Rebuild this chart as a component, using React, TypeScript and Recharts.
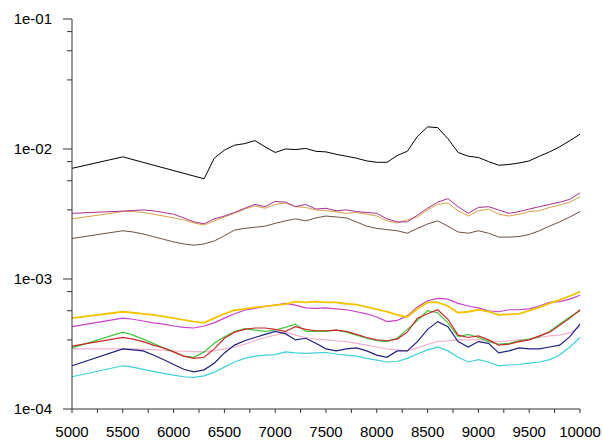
import React from "react";
import { LineChart, Line, XAxis, YAxis } from "recharts";

// wavenumber grid (x)
const wavenumbers = [
  5000, 5500, 5600, 5700, 5800, 5900, 6000, 6100, 6200, 6300, 6400, 6500, 6600, 6700, 6800, 6900,
  7000, 7100, 7200, 7300, 7400, 7500, 7600, 7700, 7800, 7900, 8000, 8100, 8200, 8300, 8400, 8500,
  8600, 8700, 8800, 8900, 9000, 9100, 9200, 9300, 9400, 9500, 9600, 9700, 9800, 9900, 10000,
];

// upper group, values in units of 1e-3
const blackVals = [
  7.1, 8.7, null, null, null, null, null, null, null, 5.9, 8.5, 9.8, 10.7, 11.0, 11.6, 10.4,
  9.4, 10.0, 9.9, 10.1, 9.6, 9.5, 9.1, 8.8, 8.5, 8.1, 7.9, 7.9, 8.9, 9.6, 12.5, 14.8,
  14.6, 12.0, 9.4, 8.8, 8.6, 8.0, 7.5, 7.6, 7.8, 8.1, 8.8, 9.5, 10.4, 11.6, 13.0,
];
const purpleVals = [
  3.2, 3.33, 3.36, 3.4, 3.35, 3.25, 3.15, 2.95, 2.75, 2.66, 2.9, 3.05, 3.25, 3.5, 3.75, 3.6,
  3.95, 3.9, 3.6, 3.75, 3.45, 3.5, 3.35, 3.4, 3.3, 3.25, 3.2, 2.9, 2.75, 2.75, 3.1, 3.5,
  3.9, 4.15, 3.6, 3.2, 3.55, 3.6, 3.4, 3.2, 3.3, 3.45, 3.6, 3.75, 3.9, 4.1, 4.6,
];
const tanVals = [
  2.9, 3.3, 3.3, 3.25, 3.15, 3.05, 2.95, 2.85, 2.7, 2.6, 2.8, 3.0, 3.2, 3.45, 3.65, 3.5,
  3.75, 3.85, 3.6, 3.55, 3.4, 3.35, 3.3, 3.2, 3.25, 3.15, 3.05, 2.8, 2.7, 2.85, 3.0, 3.4,
  3.75, 3.85, 3.35, 3.05, 3.35, 3.45, 3.15, 3.05, 3.15, 3.3, 3.35, 3.55, 3.7, 3.9, 4.3,
];
const brownVals = [
  2.05, 2.35, 2.3, 2.22, 2.12, 2.02, 1.93, 1.86, 1.82, 1.86, 1.96, 2.15, 2.38, 2.45, 2.5, 2.55,
  2.68, 2.8, 2.9, 2.8, 2.95, 3.05, 3.0, 2.95, 2.75, 2.55, 2.45, 2.4, 2.35, 2.25, 2.45, 2.65,
  2.8, 2.55, 2.3, 2.25, 2.35, 2.25, 2.1, 2.1, 2.12, 2.2, 2.35, 2.55, 2.75, 3.0, 3.3,
];

// lower group, values in units of 1e-4
const yellowVals = [
  5.0, 5.6, 5.5, 5.4, 5.3, 5.15, 5.0, 4.85, 4.7, 4.6, 5.0, 5.4, 5.75, 5.9, 6.05, 6.15,
  6.3, 6.4, 6.7, 6.6, 6.7, 6.6, 6.6, 6.45, 6.35, 6.1, 5.85, 5.6, 5.3, 5.1, 5.9, 6.6,
  6.6, 6.2, 5.5, 5.6, 5.8, 5.6, 5.3, 5.35, 5.4, 5.7, 6.05, 6.5, 6.9, 7.4, 8.0,
];
const magentaVals = [
  4.3, 5.0, 4.9, 4.75, 4.6, 4.5, 4.35, 4.25, 4.2, 4.35, 4.6, 5.0, 5.4, 5.75, 5.95, 6.15,
  6.3, 6.5, 6.3, 6.0, 5.95, 6.0, 5.9, 5.8, 5.6, 5.4, 5.1, 4.7, 4.8, 5.2, 6.1, 6.8,
  7.1, 7.0, 6.5, 6.2, 6.0, 5.7, 5.6, 5.8, 5.8, 5.9, 6.2, 6.6, 6.7, 7.0, 7.5,
];
const redVals = [
  3.05, 3.55, 3.45, 3.3, 3.1, 2.95, 2.75, 2.55, 2.45, 2.5, 2.9, 3.5, 3.9, 4.1, 4.2, 4.2,
  4.1, 3.95, 4.3, 4.1, 4.0, 4.0, 4.05, 3.95, 3.75, 3.55, 3.4, 3.35, 3.45, 3.9, 5.0, 5.4,
  5.8, 4.9, 3.7, 3.55, 3.65, 3.4, 3.1, 3.15, 3.3, 3.4, 3.65, 3.9, 4.4, 5.0, 5.8,
];
const greenVals = [
  2.95, 3.9, 3.7, 3.45, 3.2, 2.95, 2.75, 2.55, 2.5, 2.75, 3.2, 3.6, 3.95, 4.15, 4.05, 3.95,
  4.05, 4.25, 4.5, 3.95, 3.95, 3.95, 4.05, 3.9, 3.7, 3.5, 3.35, 3.3, 3.5, 4.1, 4.8, 5.7,
  5.5, 4.6, 3.6, 3.75, 3.55, 3.3, 3.15, 3.2, 3.35, 3.45, 3.6, 3.95, 4.5, 5.1, 5.7,
];
const pinkVals = [
  2.9, 2.9, 2.9, 2.88, 2.86, 2.84, 2.8, 2.78, 2.76, 2.75, 2.8, 2.9, 3.0, 3.15, 3.35, 3.55,
  3.7, 3.9, 3.7, 3.55, 3.45, 3.4, 3.35, 3.3, 3.2, 3.1, 3.0, 2.9, 2.85, 2.8, 2.95, 3.15,
  3.3, 3.35, 3.4, 3.4, 3.4, 3.35, 3.3, 3.35, 3.4, 3.45, 3.55, 3.65, 3.7, 3.85, 4.3,
];
const navyVals = [
  2.15, 2.9, 2.85, 2.8, 2.6, 2.4, 2.2, 2.02, 1.93, 2.0, 2.25, 2.7, 3.1, 3.35, 3.55, 3.75,
  3.95, 3.8, 3.4, 3.5, 3.2, 2.9, 2.8, 2.9, 2.95, 2.8, 2.6, 2.5, 2.8, 2.8, 3.3, 4.1,
  4.7, 4.3, 3.3, 3.0, 3.3, 3.2, 2.7, 2.8, 2.95, 2.9, 2.9, 3.0, 3.1, 3.6, 4.5,
];
const cyanVals = [
  1.77, 2.15, 2.1, 2.02, 1.95, 1.88, 1.82, 1.77, 1.75, 1.8, 1.92, 2.1, 2.3, 2.45, 2.55, 2.6,
  2.62, 2.75, 2.7, 2.68, 2.7, 2.72, 2.65, 2.6, 2.55, 2.45, 2.38, 2.3, 2.32, 2.45, 2.65, 2.85,
  3.0, 2.8, 2.5, 2.3, 2.4, 2.3, 2.15, 2.18, 2.2, 2.25, 2.3, 2.4, 2.6, 3.0, 3.55,
];

const decades = [1e-4, 1e-3, 1e-2, 1e-1];
const decadeLabels = ["1e-04", "1e-03", "1e-02", "1e-01"];
const minorFactors = [0.8, 0.57, 0.34];
const xTicks = [
  5000, 5250, 5500, 5750, 6000, 6250, 6500, 6750, 7000, 7250, 7500, 7750, 8000, 8250, 8500,
  8750, 9000, 9250, 9500, 9750, 10000,
];

const series = [
  { key: "black", values: blackVals, unit: 1e-3, color: "#000000", width: 1 },
  { key: "brown", values: brownVals, unit: 1e-3, color: "#6e5040", width: 1 },
  { key: "tan", values: tanVals, unit: 1e-3, color: "#d8a048", width: 1 },
  { key: "purple", values: purpleVals, unit: 1e-3, color: "#a8308c", width: 1 },
  { key: "cyan", values: cyanVals, unit: 1e-4, color: "#3cd0d8", width: 1.2 },
  { key: "pink", values: pinkVals, unit: 1e-4, color: "#f2b0d0", width: 1.2 },
  { key: "navy", values: navyVals, unit: 1e-4, color: "#202080", width: 1.2 },
  { key: "green", values: greenVals, unit: 1e-4, color: "#40c840", width: 1.2 },
  { key: "red", values: redVals, unit: 1e-4, color: "#c82828", width: 1.2 },
  { key: "magenta", values: magentaVals, unit: 1e-4, color: "#c840c8", width: 1.2 },
  { key: "yellow", values: yellowVals, unit: 1e-4, color: "#f2c400", width: 1.8 },
];

const rows = wavenumbers.map((wn, i) => {
  const row: Record<string, number | null> = { wn };
  series.forEach((s) => {
    const v = s.values[i];
    row[s.key] = v == null ? null : v * s.unit;
  });
  return row;
});

const yTicks = [
  ...decades,
  ...decades.slice(1).flatMap((d) => minorFactors.map((f) => d * f)),
];

const font = "'Liberation Sans', Arial, sans-serif";

function YTick(props: any) {
  const { x, y, payload } = props;
  const i = decades.indexOf(payload.value);
  if (i < 0) return <line x1={x - 5} x2={x} y1={y} y2={y} stroke="#333" />;
  return (
    <g>
      <line x1={x - 9} x2={x} y1={y} y2={y} stroke="#333" />
      <text x={x - 20} y={y} dy={5} textAnchor="end" fontSize={15} fontFamily={font} fill="#000">
        {decadeLabels[i]}
      </text>
    </g>
  );
}

function XTick(props: any) {
  const { x, y, payload } = props;
  const labelled = payload.value % 500 === 0;
  return (
    <g>
      <line x1={x} x2={x} y1={y} y2={y + 4} stroke="#333" />
      {labelled && (
        <text x={x} y={y + 28} textAnchor="middle" fontSize={15} fontFamily={font} fill="#000">
          {payload.value}
        </text>
      )}
    </g>
  );
}

export default function App() {
  return (
    <div style={{ position: "absolute", left: 0, top: 0, width: 603, height: 441, background: "#fff" }}>
      <LineChart width={603} height={441} data={rows} margin={{ top: 19, right: 23, left: 0, bottom: 0 }}>
        <XAxis
          dataKey="wn"
          type="number"
          domain={[5000, 10000]}
          ticks={xTicks}
          interval={0}
          tickSize={0}
          tickMargin={0}
          tick={<XTick />}
          height={32}
          axisLine={{ stroke: "#333" }}
        />
        <YAxis
          scale="log"
          domain={[1e-4, 1e-1]}
          allowDataOverflow
          ticks={yTicks}
          interval={0}
          tickSize={0}
          tickMargin={0}
          tick={<YTick />}
          width={72}
          axisLine={{ stroke: "#333" }}
        />
        {series.map((s) => (
          <Line
            key={s.key}
            dataKey={s.key}
            type="linear"
            stroke={s.color}
            strokeWidth={s.width}
            dot={false}
            activeDot={false}
            connectNulls
            isAnimationActive={false}
          />
        ))}
      </LineChart>
    </div>
  );
}
